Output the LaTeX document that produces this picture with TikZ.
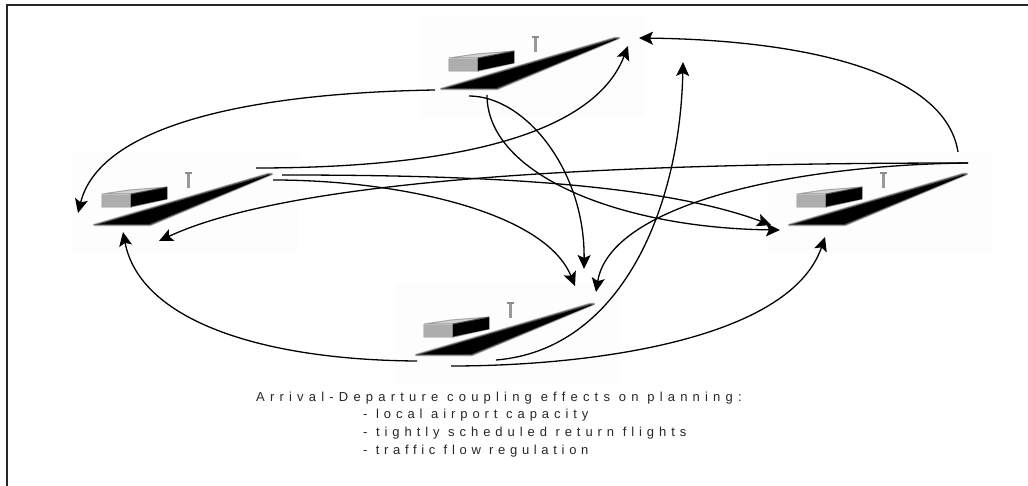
\documentclass[tikz,border=0pt]{standalone}
\usepackage{fontspec}
\setmainfont{Liberation Sans}
\newfontfamily\spacedA[LetterSpace=40]{Liberation Sans}
\newfontfamily\spacedB[LetterSpace=38]{Liberation Sans}
\newfontfamily\spacedC[LetterSpace=38]{Liberation Sans}
\newfontfamily\spacedD[LetterSpace=36]{Liberation Sans}
\usetikzlibrary{arrows.meta}
\tikzset{
  flow/.style={line width=1.3pt,-{Stealth[length=14pt,width=13pt,inset=3pt]}},
  label line/.style={anchor=base west,inner sep=0pt,text=black!85},
  airport/.pic={
    \fill[black!0.7] (-20,-21) rectangle (205,79);
    % soft halo around the runway
    \path[fill=black,draw=black,line width=2.6pt,opacity=.18,line join=round]
      (1,51) -- (57,51) -- (179,0) -- (175,0) -- cycle;
    \path[fill=black,draw=black,line width=1.4pt,opacity=.35,line join=round]
      (1,51) -- (57,51) -- (179,0) -- (175,0) -- cycle;
    \fill[black] (6,50.3) -- (56,50.3) -- (177,1) -- (175,1) -- cycle;
    % terminal building
    \path[draw=black!45,line width=1.6pt,opacity=.4,line join=round]
      (9,21) -- (38,21) -- (38,33) -- (9,33) -- cycle;
    \path[fill=black!30,draw=black!55,line width=1pt,opacity=.55]
      (9,20) -- (36,16) -- (74,13) -- (38,20) -- cycle;
    \fill[black!32] (9,21) rectangle (38,33);
    \path[fill=black,draw=black,line width=1.2pt,opacity=.35] (38,20) -- (74,13) -- (74,25) -- (38,33) -- cycle;
    \fill[black] (38,20.5) -- (74,13.5) -- (74,25) -- (38,32.5) -- cycle;
    % control tower
    \draw[black!40,line width=2.6pt] (95.5,0) -- (95.5,14);
    \draw[black!45,line width=1.6pt] (92,-1) -- (99,-1);
  }
}
\begin{document}
\begin{tikzpicture}[x=1pt,y=-1pt]
  \useasboundingbox (0,0) rectangle (1028,486);
  \fill[white] (0,0) rectangle (1028,486);
  % frame: left and top edges
  \draw[black!85,line width=1.6pt] (7,486) -- (7,5) -- (1028,5);

  % the four airports
  \pic at (440,38) {airport};
  \pic at (93,174) {airport};
  \pic at (788,174) {airport};
  \pic at (415,304) {airport};

  % connector end points
  \coordinate (topA) at (435,90);
  \coordinate (topB) at (469,96);
  \coordinate (topC) at (487,95);
  \coordinate (topIn) at (628,46);
  \coordinate (topInR) at (639,38);
  \coordinate (topInS) at (683,62);
  \coordinate (leftA) at (256,168);
  \coordinate (leftB) at (282,175);
  \coordinate (leftC) at (273,180);
  \coordinate (leftIn) at (78,213);
  \coordinate (leftInS) at (123,232);
  \coordinate (leftInE) at (159,241);
  \coordinate (rightA) at (958,152);
  \coordinate (rightB) at (968,163);
  \coordinate (rightC) at (968,163);
  \coordinate (rightIn) at (771,225);
  \coordinate (rightInB) at (780,230);
  \coordinate (rightInS) at (825,237);
  \coordinate (botA) at (417,361);
  \coordinate (botB) at (451,366);
  \coordinate (botC) at (496,360);
  \coordinate (botIn) at (575,286);
  \coordinate (botInT) at (584,269);
  \coordinate (botInR) at (596,292);

  % flows between airports
  \draw[flow] (topA) .. controls (250,93) and (100,125) .. (leftIn);
  \draw[flow] (leftA) .. controls (420,168) and (590,145) .. (topIn);
  \draw[flow] (topB) .. controls (525,96) and (585,170) .. (botInT);
  \draw[flow] (topC) .. controls (487,175) and (620,228) .. (rightInB);
  \draw[flow] (leftB) .. controls (450,175) and (650,180) .. (rightIn);
  \draw[flow] (leftC) .. controls (400,180) and (545,212) .. (botIn);
  \draw[flow] (rightB) .. controls (650,163) and (300,175) .. (leftInE);
  \draw[flow] (rightC) .. controls (790,165) and (610,205) .. (botInR);
  \draw[flow] (rightA) .. controls (945,70) and (800,40) .. (topInR);
  \draw[flow] (botC) .. controls (620,350) and (680,210) .. (topInS);
  \draw[flow] (botB) .. controls (590,366) and (790,340) .. (rightInS);
  \draw[flow] (botA) .. controls (260,360) and (140,320) .. (leftInS);

  % caption
  \node[label line,font=\fontsize{13pt}{15pt}\spacedA] (capA) at (256,401) {Arrival-Departure coupling effects on planning:};
  \node[label line,font=\fontsize{13pt}{15pt}\spacedB] (capB) at (363,418) {- local airport capacity};
  \node[label line,font=\fontsize{13pt}{15pt}\spacedC] (capC) at (363,436) {- tightly scheduled return flights};
  \node[label line,font=\fontsize{13pt}{15pt}\spacedD] (capD) at (363,454) {- traffic flow regulation};
\end{tikzpicture}
\end{document}
